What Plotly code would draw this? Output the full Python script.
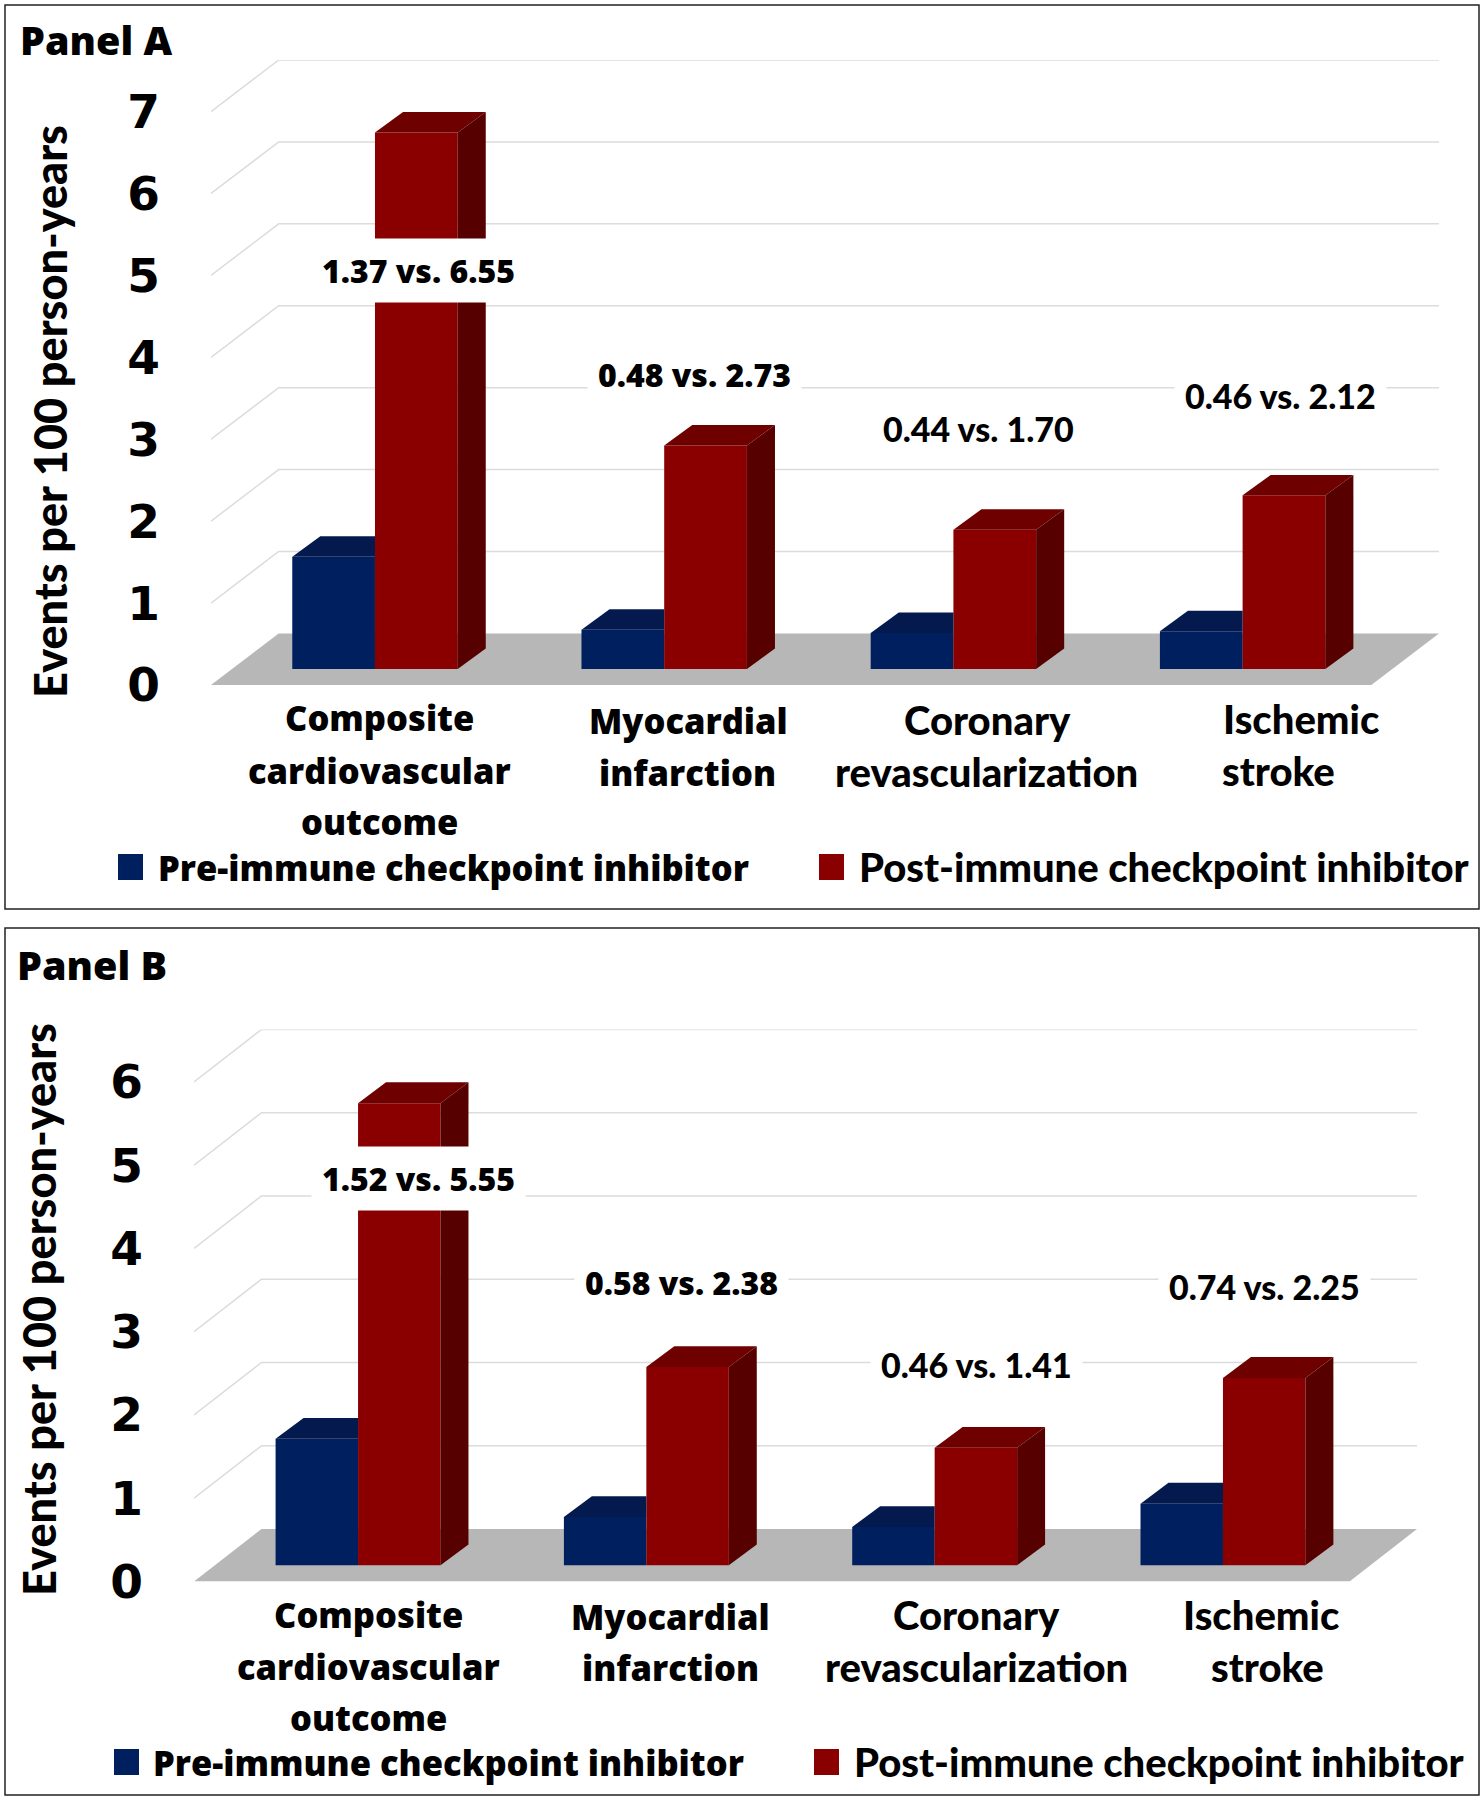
import plotly.graph_objects as go

WIDTH = 1484
HEIGHT = 1800

PRE_A = [1.37, 0.48, 0.44, 0.46]
POST_A = [6.55, 2.73, 1.70, 2.12]
PRE_B = [1.52, 0.58, 0.46, 0.74]
POST_B = [5.55, 2.38, 1.41, 2.25]
CATEGORIES = [
    ["Composite", "cardiovascular", "outcome"],
    ["Myocardial", "infarction"],
    ["Coronary", "revascularization"],
    ["Ischemic", "stroke"],
]
SERIES_NAMES = ["Pre-immune checkpoint inhibitor", "Post-immune checkpoint inhibitor"]
Y_TITLE = "Events per 100 person-years"

BLUE = "#001f5f"
BLUE_TOP = "#041a4e"
RED = "#8a0000"
RED_TOP = "#6e0000"
RED_SIDE = "#570000"
FLOOR = "#b7b7b7"
GRID = "#dcdcdc"

WIDE = "Open Sans"
NARROW = "Lato"

BAR_W = 0.286
BAR_BASE = 0.195
BAR_DX = 0.097
BAR_DY = 0.25
WALL_DX = 0.234
WALL_DY = 0.63


def px(x):
    return x / WIDTH


def py(y):
    return 1 - y / HEIGHT


def text(fig, x, y, s, size, family=WIDE, anchor="center", **kw):
    fig.add_annotation(
        xref="paper", yref="paper", x=px(x), y=py(y), text=s,
        showarrow=False, xanchor=anchor, yanchor="middle",
        font={"size": size, "family": family, "color": "black", "weight": 900 if family == NARROW else 800},
        **kw,
    )


def poly(fig, xs, ys, color, xaxis, yaxis):
    fig.add_trace(
        go.Scatter(
            x=xs + xs[:1], y=ys + ys[:1], mode="lines", fill="toself",
            fillcolor=color, line={"color": color, "width": 0},
            hoverinfo="skip", showlegend=False, xaxis=xaxis, yaxis=yaxis,
        )
    )


def draw_panel(fig, n, pre, post, ymax, x_dom, y_px, x_range, box, title, title_pos,
               ytitle_pos, label_pos, label_fonts, cat_pos, legend_y, legend_x):
    suffix = "" if n == 1 else str(n)
    xaxis, yaxis = f"x{suffix}", f"y{suffix}"
    xs = list(range(len(pre)))

    # ふたつの棒の正面
    for vals, color, name, shift in ((pre, BLUE, SERIES_NAMES[0], -BAR_W), (post, RED, SERIES_NAMES[1], 0)):
        fig.add_trace(
            go.Bar(
                x=xs, y=vals, base=[BAR_BASE] * len(vals), width=BAR_W, offset=shift,
                marker={"color": color, "line": {"width": 0}}, name=name,
                showlegend=False, xaxis=xaxis, yaxis=yaxis,
            )
        )
    # 上面と側面は値から計算する
    for i, (a, b) in enumerate(zip(pre, post)):
        top_a, top_b = a + BAR_BASE, b + BAR_BASE
        poly(fig, [i - BAR_W, i - BAR_W + BAR_DX, i, i], [top_a, top_a + BAR_DY, top_a + BAR_DY, top_a],
             BLUE_TOP, xaxis, yaxis)
        poly(fig, [i, i + BAR_DX, i + BAR_W + BAR_DX, i + BAR_W], [top_b, top_b + BAR_DY, top_b + BAR_DY, top_b],
             RED_TOP, xaxis, yaxis)
        poly(fig, [i + BAR_W, i + BAR_W + BAR_DX, i + BAR_W + BAR_DX, i + BAR_W],
             [BAR_BASE, BAR_BASE + BAR_DY, top_b + BAR_DY, top_b], RED_SIDE, xaxis, yaxis)

    x0, x1 = x_range
    xref, yref = xaxis, yaxis
    fig.add_shape(
        type="path", xref=xref, yref=yref, layer="below", line={"width": 0}, fillcolor=FLOOR,
        path=f"M{x0},0 L{x0 + WALL_DX},{WALL_DY} L{x1},{WALL_DY} L{x1 - WALL_DX},0 Z",
    )
    for v in range(1, ymax + 1):
        fig.add_shape(
            type="path", xref=xref, yref=yref, layer="below", line={"color": GRID, "width": 1.5},
            path=f"M{x0},{v} L{x0 + WALL_DX},{v + WALL_DY} L{x1},{v + WALL_DY}",
        )

    axis_x = "xaxis" if n == 1 else f"xaxis{n}"
    axis_y = "yaxis" if n == 1 else f"yaxis{n}"
    fig.update_layout(
        {
            axis_x: dict(domain=x_dom, range=list(x_range), visible=False, anchor=yaxis, automargin=False),
            axis_y: dict(
                domain=[py(y_px[0]), py(y_px[1])], range=[0, ymax + WALL_DY], anchor=xaxis,
                showgrid=False, zeroline=False, showline=False, tickvals=list(range(ymax + 1)),
                ticks="", ticklabelstandoff=50, automargin=False,
                tickfont={"size": 47, "family": "DejaVu Sans", "color": "black", "weight": "bold"},
            ),
        }
    )

    fig.add_shape(
        type="rect", xref="paper", yref="paper", x0=px(box[0]), x1=px(box[2]), y0=py(box[1]), y1=py(box[3]),
        line={"color": "#222222", "width": 1.5},
    )
    text(fig, title_pos[0], title_pos[1], title, 39.5, anchor="left")
    text(fig, ytitle_pos[0], ytitle_pos[1], Y_TITLE, 45, NARROW, textangle=-90)

    for (a, b), (x, y), fam in zip(zip(pre, post), label_pos, label_fonts):
        size = 32 if fam == WIDE else 34
        text(fig, x, y, f"{a:.2f} vs. {b:.2f}", size, fam, bgcolor="white", borderpad=10)

    for lines, pos, fam in zip(CATEGORIES, cat_pos, [WIDE, WIDE, NARROW, NARROW]):
        size = 34.5 if fam == WIDE else 40
        for line, (x, y) in zip(lines, pos):
            text(fig, x, y, line, size, fam)

    for name, (sw, tx), fam in zip(SERIES_NAMES, legend_x, [WIDE, NARROW]):
        color = BLUE if name is SERIES_NAMES[0] else RED
        fig.add_shape(
            type="rect", xref="paper", yref="paper", x0=px(sw), x1=px(sw + 25), y0=py(legend_y - 13),
            y1=py(legend_y + 13), fillcolor=color, line={"width": 0},
        )
        size = 34.5 if fam == WIDE else 40
        text(fig, tx, legend_y, name, size, fam, anchor="left")


fig = go.Figure()
draw_panel(
    fig, 1, PRE_A, POST_A, 7,
    x_dom=[px(211), px(1439)], y_px=(685, 60), x_range=(-0.567, 3.679),
    box=(5, 5, 1479, 909), title="Panel A", title_pos=(18, 40), ytitle_pos=(50, 412),
    label_pos=[(418, 270), (694, 374), (978, 429), (1280, 396)],
    label_fonts=[WIDE, WIDE, NARROW, NARROW],
    cat_pos=[
        [(379, 718), (379, 770), (379, 821)],
        [(688, 720), (687, 772)],
        [(987, 720), (986, 772)],
        [(1301, 719), (1278, 771)],
    ],
    legend_y=867, legend_x=[(118, 156), (819, 857)],
)
draw_panel(
    fig, 2, PRE_B, POST_B, 6,
    x_dom=[px(194), px(1417)], y_px=(1581.5, 1029.5), x_range=(-0.569, 3.673),
    box=(5, 928, 1479, 1795), title="Panel B", title_pos=(15, 965), ytitle_pos=(39, 1310),
    label_pos=[(418, 1178), (681, 1282), (976, 1364), (1264, 1286)],
    label_fonts=[WIDE, WIDE, NARROW, NARROW],
    cat_pos=[
        [(368, 1614), (368, 1666), (368, 1717)],
        [(670, 1616), (670, 1667)],
        [(977, 1615), (977, 1667)],
        [(1261, 1615), (1267, 1667)],
    ],
    legend_y=1762, legend_x=[(114, 151), (814, 852)],
)

fig.update_layout(
    width=WIDTH, height=HEIGHT, autosize=False,
    margin={"l": 0, "r": 0, "t": 0, "b": 0, "autoexpand": False},
    paper_bgcolor="white", plot_bgcolor="rgba(0,0,0,0)", barmode="overlay", showlegend=False,
)
fig.write_html("out.html", config={"displayModeBar": False}, post_script="document.body.style.margin='0';")
